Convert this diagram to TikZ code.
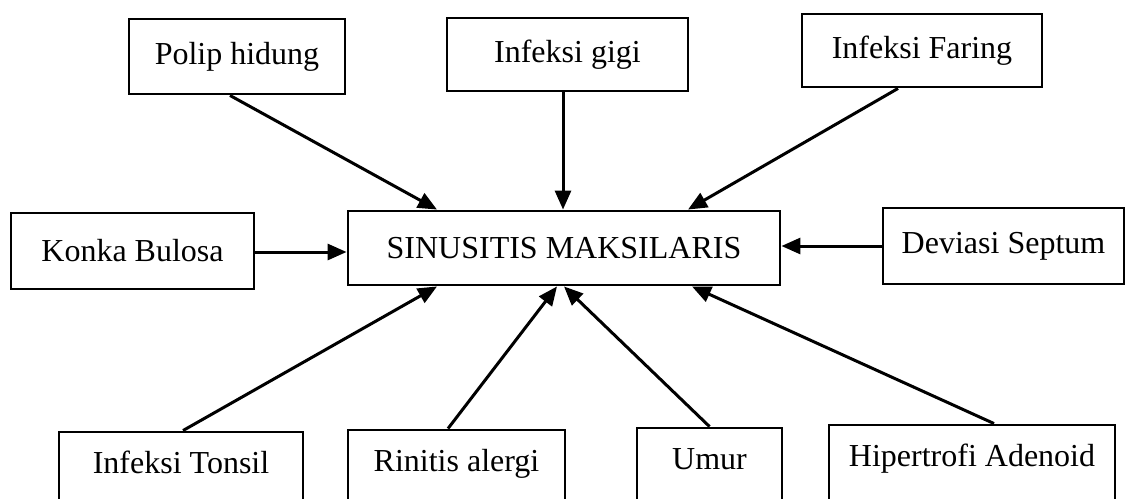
\documentclass[tikz,border=0pt]{standalone}
\usepackage{fontspec}
\setmainfont{Liberation Serif}
\usetikzlibrary{arrows.meta}
\begin{document}
\begin{tikzpicture}[x=1pt,y=-1pt,
  box/.style={draw=black, line width=2.9pt, fill=white, inner sep=0pt,
    font=\fontsize{32}{38}\selectfont},
  lowbox/.style={box, text depth=16pt, text height=23pt},
  conn/.style={line width=3pt, -{Triangle[length=19pt,width=16pt]}}]
\useasboundingbox (0,0) rectangle (1127,498);
\clip (0,0) rectangle (1127,498);
\fill[white] (0,0) rectangle (1127,498);
% top row
\node[box, minimum width=216pt, minimum height=75pt] (polip) at (237,56.5) {Polip hidung};
\node[box, minimum width=241pt, minimum height=73pt] (gigi) at (567.5,54.5) {Infeksi gigi};
\node[box, minimum width=240pt, minimum height=73pt] (faring) at (922,50.5) {Infeksi Faring};
% middle row
\node[box, minimum width=243pt, minimum height=76pt] (konka) at (132.5,251) {Konka Bulosa};
\node[box, minimum width=432pt, minimum height=74pt] (sin) at (564,248) {SINUSITIS MAKSILARIS};
\node[box, minimum width=241pt, minimum height=76pt] (dev) at (1003.5,246) {Deviasi Septum};
% bottom row
\node[lowbox, minimum width=244pt, minimum height=76pt] (tonsil) at (181,470) {Infeksi Tonsil};
\node[lowbox, minimum width=217pt, minimum height=76pt] (rinitis) at (456.5,468) {Rinitis alergi};
\node[lowbox, minimum width=145pt, minimum height=76pt] (umur) at (709.5,466) {Umur};
\node[lowbox, minimum width=286pt, minimum height=76pt] (hip) at (972,463) {Hipertrofi Adenoid};
% connectors
\draw[conn] ([xshift=-7pt]polip.south) -- ([xshift=-127pt]sin.north);
\draw[conn] ([xshift=-4.5pt]gigi.south) -- ([xshift=-1pt]sin.north);
\draw[conn] ([xshift=-24pt]faring.south) -- ([xshift=124pt]sin.north);
\draw[conn] ([yshift=-1pt]konka.east) -- ([yshift=-1pt]konka.east -| sin.west);
\draw[conn] (dev.west) -- (dev.west -| sin.east);
\draw[conn] ([xshift=2pt]tonsil.north) -- ([xshift=-127pt]sin.south);
\draw[conn] ([xshift=-8.5pt]rinitis.north) -- ([xshift=-7pt]sin.south);
\draw[conn] (umur.north) -- (sin.south);
\draw[conn] ([xshift=22pt]hip.north) -- ([xshift=128pt]sin.south);
\end{tikzpicture}
\end{document}
